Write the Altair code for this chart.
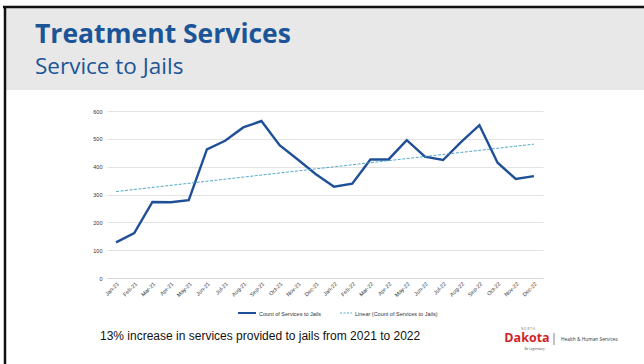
import altair as alt
import pandas as pd

# Monthly counts of services delivered to jails, Jan 2021 – Dec 2022
months = ["Jan-21", "Feb-21", "Mar-21", "Apr-21", "May-21", "Jun-21",
          "Jul-21", "Aug-21", "Sep-21", "Oct-21", "Nov-21", "Dec-21",
          "Jan-22", "Feb-22", "Mar-22", "Apr-22", "May-22", "Jun-22",
          "Jul-22", "Aug-22", "Sep-22", "Oct-22", "Nov-22", "Dec-22"]
counts = [128, 161, 273, 272, 280, 462, 493, 541, 564, 477, 426, 373,
          328, 339, 426, 426, 495, 436, 424, 489, 549, 414, 356, 366]
y_ticks = [0, 100, 200, 300, 400, 500, 600]

series_name = "Count of Services to Jails"
trend_name = "Linear (Count of Services to Jails)"

df = pd.DataFrame({"idx": list(range(len(months))), "month": months, "count": counts})

BLUE_TITLE = "#1c5597"
LINE_BLUE = "#1f4f97"
TREND = "#3f9fc4"
FONT = "Open Sans"
XL_FONT = "Liberation Sans"

# plot area geometry (autosize none: padding places the view on the page)
W, H = 436, 167
PAD = {"left": 107, "top": 111, "right": 644 - 107 - W, "bottom": 364 - 111 - H}
OX, OY = PAD["left"], PAD["top"]

one = alt.Data(values=[{}])


def px(x):
    return alt.value(x - OX)


def py(y):
    return alt.value(y - OY)


def label(text, x, y, **kw):
    return alt.Chart(one).mark_text(text=text, **kw).encode(x=px(x), y=py(y))


# slide header band and frame
header = alt.Chart(one).mark_rect(color="#e8e8e8").encode(
    x=px(6), x2=px(644), y=py(8), y2=py(90))
frame_top = alt.Chart(one).mark_rule(color="#111111", strokeWidth=2.5).encode(
    x=px(3), x2=px(644), y=py(7))
frame_left = alt.Chart(one).mark_rule(color="#111111", strokeWidth=2.5).encode(
    x=px(5), y=py(7), y2=py(364))

title = label("Treatment Services", 35, 43, font=FONT, fontSize=26.5, fontWeight="bold",
              color=BLUE_TITLE, align="left", baseline="alphabetic")
subtitle = label("Service to Jails", 35, 74, font=FONT, fontSize=22.5,
                 color=BLUE_TITLE, align="left", baseline="alphabetic")

label_expr = "[" + ",".join(f"'{m}'" for m in months) + "][datum.value]"

x_scale = alt.Scale(domain=[-0.5, len(months) - 0.5], nice=False, zero=False)
y_scale = alt.Scale(domain=[0, 600], nice=False)

# one shared definition for both series so the merged axes keep every setting
x_enc = alt.X("idx:Q", title=None, scale=x_scale,
              axis=alt.Axis(values=list(range(len(months))), labelExpr=label_expr,
                            labelAngle=-45, labelFontSize=5.5, labelFont=XL_FONT,
                            labelColor="#333333", ticks=False, grid=False,
                            labelOverlap=False, labelBound=False, labelFlush=False,
                            domainColor="#d4d4d4", domainWidth=0.8, labelPadding=3))
y_enc = alt.Y("count:Q", title=None, scale=y_scale,
              axis=alt.Axis(values=y_ticks, labelFontSize=5.5, labelFont=XL_FONT,
                            labelColor="#333333", ticks=False, domain=False,
                            labelOverlap=False, labelFlush=False,
                            gridColor="#dcdcdc", gridWidth=0.8, labelPadding=5))

line = alt.Chart(df).mark_line(color=LINE_BLUE, strokeWidth=2.4).encode(x=x_enc, y=y_enc)

trend = alt.Chart(df).transform_regression(
    "idx", "count", extent=[0, len(months) - 1]
).mark_line(color=TREND, strokeWidth=0.9, strokeDash=[3, 1.5]).encode(x=x_enc, y=y_enc)

# legend below the chart
leg_line = alt.Chart(one).mark_rule(color=LINE_BLUE, strokeWidth=2).encode(
    x=px(238), x2=px(256), y=py(313))
leg_text1 = label(series_name, 259, 313.5, font=XL_FONT, fontSize=5.5, color="#333333",
                  align="left", baseline="middle")
leg_trend = alt.Chart(one).mark_rule(color=TREND, strokeWidth=0.9, strokeDash=[2, 1.5]).encode(
    x=px(340), x2=px(352), y=py(313))
leg_text2 = label(trend_name, 355, 313.5, font=XL_FONT, fontSize=5.5, color="#333333",
                  align="left", baseline="middle")

footer = label("13% increase in services provided to jails from 2021 to 2022", 100, 340,
               font=XL_FONT, fontSize=12, color="#111111",
               align="left", baseline="alphabetic")

# department logo
logo_north = label("N O R T H", 528, 328.5, font=FONT, fontSize=3.2, color="#777777",
                   align="center", baseline="middle")
logo_dakota = label("Dakota", 527, 342, font=FONT, fontSize=12.5, fontWeight="bold",
                    color="#d2232a", align="center", baseline="alphabetic")
logo_tag = label("Be Legendary.", 535, 348.5, font=FONT, fontSize=3.2, color="#555555",
                 align="center", baseline="middle")
logo_sep = alt.Chart(one).mark_rule(color="#666666", strokeWidth=0.8).encode(
    x=px(554), y=py(333), y2=py(345))
logo_hhs = label("Health & Human Services", 561, 340, font=FONT, fontSize=4.8,
                 color="#333333", align="left", baseline="middle")

chart = alt.layer(
    header, frame_top, frame_left, title, subtitle,
    line, trend,
    leg_line, leg_text1, leg_trend, leg_text2,
    footer, logo_north, logo_dakota, logo_tag, logo_sep, logo_hhs,
).properties(
    width=W, height=H, padding=PAD, autosize=alt.AutoSizeParams(type="none"),
    background="white",
).configure_view(stroke=None)

chart.save("out.html", embed_options={"renderer": "svg", "actions": False})
